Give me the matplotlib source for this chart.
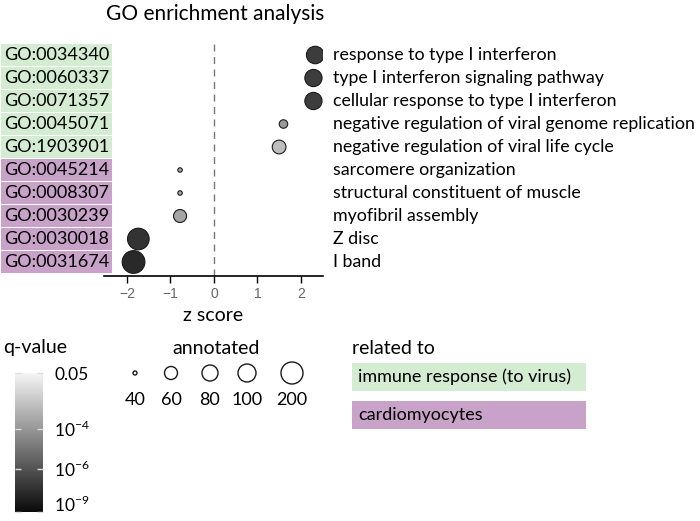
import numpy as np
import matplotlib
matplotlib.use("Agg")
import matplotlib.pyplot as plt
import matplotlib.colors as mcolors
import matplotlib.transforms as mtransforms
from matplotlib.patches import Rectangle
from matplotlib.cm import ScalarMappable

plt.rcParams['font.family'] = ['Lato', 'DejaVu Sans']
plt.rcParams['mathtext.fontset'] = 'custom'
plt.rcParams['mathtext.rm'] = 'Lato'

# data (top row first)
go_ids = ["GO:0034340", "GO:0060337", "GO:0071357", "GO:0045071", "GO:1903901",
          "GO:0045214", "GO:0008307", "GO:0030239", "GO:0030018", "GO:0031674"]
terms = ["response to type I interferon",
         "type I interferon signaling pathway",
         "cellular response to type I interferon",
         "negative regulation of viral genome replication",
         "negative regulation of viral life cycle",
         "sarcomere organization",
         "structural constituent of muscle",
         "myofibril assembly",
         "Z disc",
         "I band"]
groups = ["immune", "immune", "immune", "immune", "immune",
          "cardio", "cardio", "cardio", "cardio", "cardio"]
z_score = [2.33, 2.29, 2.29, 1.60, 1.50, -0.78, -0.78, -0.78, -1.74, -1.85]
annotated = [95, 92, 92, 50, 65, 41, 41, 60, 190, 230]
q_value = [1.1e-7, 1.2e-7, 1.2e-7, 1.2e-4, 1.2e-3, 3.5e-4, 3.5e-4, 2.5e-4, 5e-8, 2e-8]

group_names = ["immune", "cardio"]
group_labels = ["immune response (to virus)", "cardiomyocytes"]
group_colors = ["#d4ecd2", "#c8a2c8"]

size_breaks = [40, 60, 80, 100, 200]
q_breaks = [0.05, 1e-4, 1e-6, 1e-9]
q_break_labels = ["0.05", r"$10^{-4}$", r"$10^{-6}$", r"$10^{-9}$"]

# scales
size_ref_val = [40, 60, 80, 100, 200, 300]
size_ref_px = [4, 13, 16, 18, 22, 24.5]


def size_scale(v):
    d = np.interp(np.asarray(v, float), size_ref_val, size_ref_px)
    return (d * 72 / 100) ** 2


log_q_ref = [-9, -6, -4, np.log10(0.05)]
pos_ref = [0.0, 0.31, 0.60, 1.0]


def q_fwd(q):
    return np.interp(np.log10(np.clip(q, 1e-12, 1)), log_q_ref, pos_ref)


def q_inv(p):
    return 10 ** np.interp(p, pos_ref, log_q_ref)


norm = mcolors.FuncNorm((q_fwd, q_inv), vmin=1e-9, vmax=0.05)
cmap = mcolors.LinearSegmentedColormap.from_list("qgrey", ["#0a0a0a", "#f5f5f5"])

W, H = 700, 521
fig = plt.figure(figsize=(7, 5.21), dpi=100)


def fx(px):
    return px / W


def fy(py):
    return 1 - py / H


# main panel
ax = fig.add_axes([fx(104), fy(276), fx(323) - fx(104), fy(40) - fy(276)])
rows = np.arange(len(go_ids))
ax.axvline(0, color="#777777", lw=1, ls=(0, (5, 4)), zorder=1)
ax.scatter(z_score, rows, s=size_scale(annotated), c=q_value, cmap=cmap, norm=norm,
           edgecolors="#1a1a1a", linewidths=0.8, zorder=3)
ax.set_xlim(-2.53, 2.51)
ax.set_ylim((276 - 55) / 23, (40 - 55) / 23)
ax.set_xticks([-2, -1, 0, 1, 2])
ax.set_yticks([])
for s in ["left", "top", "right"]:
    ax.spines[s].set_visible(False)
ax.spines["bottom"].set_linewidth(1.2)
ax.tick_params(axis="x", direction="out", length=5, width=1, color="black",
               labelcolor="#666666", labelsize=10, pad=3)
for lab in ax.get_xticklabels():
    lab.set_family(["Liberation Sans", "DejaVu Sans"])
ax.set_xlabel("z score", fontsize=14, labelpad=4)

trans = mtransforms.blended_transform_factory(fig.transFigure, ax.transData)
for i, (gid, term, g) in enumerate(zip(go_ids, terms, groups)):
    col = group_colors[group_names.index(g)]
    fig.text(fx(4), i, gid, transform=trans, ha="left", va="center", fontsize=13,
             bbox=dict(boxstyle="square,pad=0.15", fc=col, ec="none"))
    fig.text(fx(333), i, term, transform=trans, ha="left", va="center", fontsize=12.8)

fig.text(fx(215), fy(14), "GO enrichment analysis", ha="center", va="center", fontsize=15)

# q-value legend
fig.text(fx(3), fy(348), "q-value", ha="left", va="center", fontsize=14)
cax = fig.add_axes([fx(15), fy(512), fx(43) - fx(15), fy(373) - fy(512)])
sm = ScalarMappable(norm=norm, cmap=cmap)
cb = fig.colorbar(sm, cax=cax, ticks=q_breaks)
cb.outline.set_visible(False)
cb.ax.set_yticklabels(q_break_labels)
cax.minorticks_off()
cax.tick_params(which="major", direction="in", color="#dddddd", length=4, width=1,
                left=True, right=True, labelleft=False, labelright=True,
                labelsize=12.5, pad=8)
cax.get_yticklabels()[-1].set_va("baseline")

# annotated legend
key_x_px = [135, 171, 210, 247, 292]
fig.text(fx(216), fy(348), "annotated", ha="center", va="center", fontsize=14)
lax = fig.add_axes([0, 0, 1, 1])
lax.set_xlim(0, W)
lax.set_ylim(H, 0)
lax.axis("off")
lax.scatter(key_x_px, [373] * len(key_x_px), s=size_scale(size_breaks),
            facecolors="none", edgecolors="#1a1a1a", linewidths=1)
for xk, b in zip(key_x_px, size_breaks):
    lax.text(xk, 400, str(b), ha="center", va="center", fontsize=13)

# related-to legend
fig.text(fx(352), fy(348), "related to", ha="left", va="center", fontsize=14)
box_top_px = [363, 401]
for top, lab, col in zip(box_top_px, group_labels, group_colors):
    lax.add_patch(Rectangle((352, top), 234, 28, fc=col, ec="none"))
    lax.text(358, top + 14, lab, ha="left", va="center", fontsize=13)

fig.savefig("out.png", dpi=100)
